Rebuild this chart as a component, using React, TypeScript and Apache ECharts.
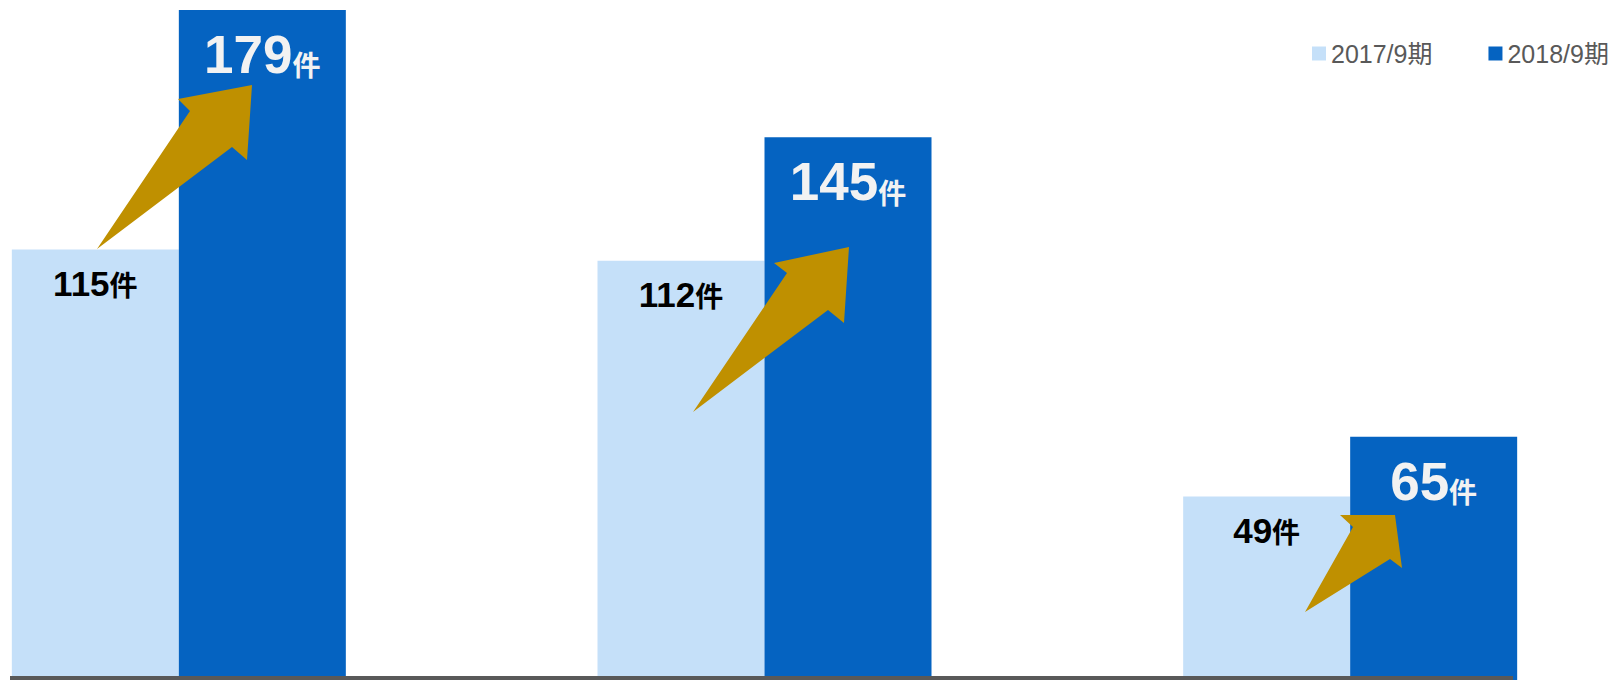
import React, { useEffect, useRef } from "react";
import * as echarts from "echarts";

const CATEGORIES = ["項目1", "項目2", "項目3"];
const SERIES_NAMES = ["2017/9期", "2018/9期"];
const VALUES_2017 = [115, 112, 49];
const VALUES_2018 = [179, 145, 65];
const UNIT = "件";

const LIGHT = "#C5E0F9";
const DARK = "#0563C1";
const GOLD = "#BF9000";
const FONT = "'Liberation Sans', Arial, 'Noto Sans CJK JP', sans-serif";

// the chart canvas is wider than the page and shifted left so the plot's categories line up
const SHIFT = 114;
const CHART_W = 1757;

// decorative block arrows (annotation shapes), page coordinates
const ARROWS: number[][][] = [
  [[97, 249], [190, 111], [178, 99], [252, 85], [247, 160], [232, 147]],
  [[693, 412], [787, 273], [774, 263], [849, 247], [844, 323], [828, 310]],
  [[1305, 612], [1353, 527], [1340, 515], [1395, 515], [1402, 568], [1390, 559]],
];

export default function App() {
  const ref = useRef<HTMLDivElement>(null);
  useEffect(() => {
    if (!ref.current) return;
    const chart = echarts.init(ref.current, null, { renderer: "svg" });
    chart.setOption({
      animation: false,
      backgroundColor: "#ffffff",
      textStyle: { fontFamily: FONT },
      legend: {
        left: 1307 + SHIFT,
        top: 36,
        width: 330,
        orient: "horizontal",
        icon: "rect",
        itemWidth: 14,
        itemHeight: 14,
        itemGap: 56,
        textStyle: { color: "#595959", fontSize: 25, fontFamily: FONT },
        data: SERIES_NAMES,
      },
      grid: { left: 0, right: 0, top: 6.2, bottom: -3.3, containLabel: false },
      xAxis: {
        type: "category",
        data: CATEGORIES,
        axisLine: { show: false },
        axisTick: { show: false },
        axisLabel: { show: false },
        splitLine: { show: false },
      },
      yAxis: {
        type: "value",
        min: 0,
        max: 180,
        show: false,
        splitLine: { show: false },
      },
      series: [
        {
          name: SERIES_NAMES[0],
          type: "bar",
          data: VALUES_2017,
          barWidth: 167,
          barGap: "0%",
          itemStyle: { color: LIGHT },
          label: {
            show: true,
            position: "insideTop",
            distance: 16,
            formatter: "{a|{c}}{b|" + UNIT + "}",
            rich: {
              a: { fontSize: 35, fontWeight: "bold", color: "#000000", lineHeight: 35, fontFamily: FONT },
              b: { fontSize: 28, fontWeight: "bold", color: "#000000", lineHeight: 29, verticalAlign: "bottom", fontFamily: FONT },
            },
          },
        },
        {
          name: SERIES_NAMES[1],
          type: "bar",
          data: VALUES_2018,
          barWidth: 167,
          barGap: "0%",
          itemStyle: { color: DARK },
          label: {
            show: true,
            position: "insideTop",
            distance: 18,
            formatter: "{a|{c}}{b|" + UNIT + "}",
            rich: {
              a: { fontSize: 53, fontWeight: "bold", color: "#F2F2F2", lineHeight: 53, fontFamily: FONT },
              b: { fontSize: 28, fontWeight: "bold", color: "#F2F2F2", lineHeight: 40, verticalAlign: "bottom", fontFamily: FONT },
            },
          },
        },
      ],
      graphic: [
        {
          type: "rect",
          z: 100,
          shape: { x: 10 + SHIFT, y: 676, width: 1503, height: 4 },
          style: { fill: "#595959" },
        },
        ...ARROWS.map((pts) => ({
          type: "polygon",
          z: 100,
          shape: { points: pts.map(([x, y]) => [x + SHIFT, y]) },
          style: { fill: GOLD },
        })),
      ],
    });
    return () => chart.dispose();
  }, []);
  return (
    <div
      style={{
        position: "absolute",
        left: 0,
        top: 0,
        width: 1616,
        height: 680,
        overflow: "hidden",
        background: "#ffffff",
      }}
    >
      <div
        ref={ref}
        style={{ position: "absolute", left: -SHIFT, top: 0, width: CHART_W, height: 680 }}
      />
    </div>
  );
}
